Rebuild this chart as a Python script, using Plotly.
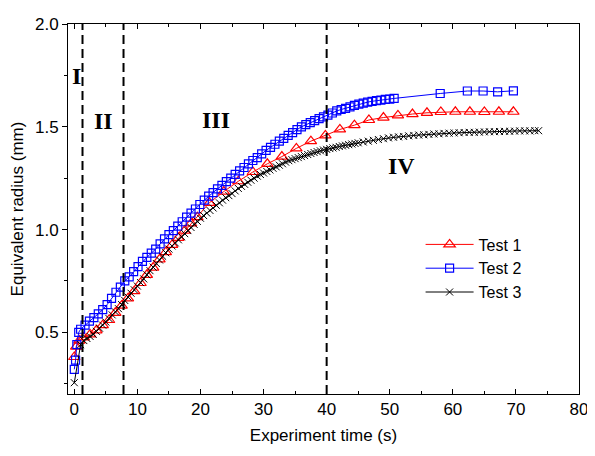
import plotly.graph_objects as go

# ---------------- data ----------------
t1 = [0.0, 0.3, 0.8, 1.5, 2.5, 3.5, 4.5, 5.5, 6.5, 7.5, 8.5, 9.5, 10.5, 11.5, 12.5,
      13.5, 14.5, 15.5, 16.5, 17.5, 18.5, 19.5, 21.4, 23.7, 26.0, 28.3, 30.6, 32.9,
      35.2, 37.5, 39.8, 42.1, 44.4, 46.7, 49.0, 51.3, 53.6, 55.9, 58.1, 60.4, 62.7,
      65.0, 67.3, 69.6]
r1 = [0.38, 0.43, 0.46, 0.475, 0.49, 0.51, 0.535, 0.56, 0.595, 0.63, 0.665, 0.70,
      0.74, 0.78, 0.815, 0.855, 0.89, 0.925, 0.96, 0.995, 1.03, 1.06, 1.13, 1.185,
      1.235, 1.28, 1.32, 1.355, 1.395, 1.43, 1.458, 1.487, 1.508, 1.533, 1.545, 1.555,
      1.562, 1.568, 1.572, 1.573, 1.573, 1.572, 1.573, 1.573]

t2 = [0.0, 0.2, 0.4, 0.7, 1.0, 1.7, 2.4, 3.1, 3.8, 4.5, 5.2, 5.9, 6.6, 7.3, 8.0, 8.7,
      9.4, 10.1, 10.8, 11.5, 12.2, 12.9, 13.6, 14.3, 15.0, 15.7, 16.4, 17.1, 17.8,
      18.5, 19.2, 19.9, 20.6, 21.3, 22.0, 22.7, 23.4, 24.1, 24.8, 25.5, 26.2, 26.9,
      27.6, 28.3, 29.0, 29.7, 30.4, 31.1, 31.8, 32.5, 33.2, 33.9, 34.6, 35.3, 36.0,
      36.7, 37.4, 38.1, 38.8, 39.5, 40.2, 40.9, 41.6, 42.3, 43.0, 43.7, 44.4, 45.1,
      45.8, 46.5, 47.2, 47.9, 48.6, 49.3, 50.0, 50.7, 58.0, 62.3, 64.8, 67.1, 69.6]
r2 = [0.32, 0.365, 0.44, 0.50, 0.515, 0.535, 0.555, 0.572, 0.59, 0.61, 0.635, 0.665,
      0.695, 0.72, 0.75, 0.77, 0.795, 0.82, 0.845, 0.865, 0.885, 0.905, 0.93, 0.955,
      0.975, 0.995, 1.017, 1.038, 1.06, 1.08, 1.10, 1.122, 1.143, 1.163, 1.18, 1.198,
      1.215, 1.233, 1.25, 1.268, 1.285, 1.302, 1.32, 1.336, 1.35, 1.368, 1.385, 1.40,
      1.415, 1.43, 1.444, 1.458, 1.472, 1.486, 1.50, 1.51, 1.52, 1.53, 1.54, 1.548,
      1.557, 1.567, 1.577, 1.584, 1.59, 1.597, 1.604, 1.61, 1.615, 1.62, 1.624, 1.627,
      1.63, 1.633, 1.635, 1.638, 1.662, 1.674, 1.674, 1.670, 1.675]

t3 = [0.0, 1.0, 1.5, 2.0, 2.5, 3.0, 3.5, 4.0, 4.5, 5.0, 5.5, 6.0, 6.5, 7.0, 7.5, 8.0,
      8.5, 9.0, 9.5, 10.0, 10.5, 11.0, 11.5, 12.0, 12.5, 13.0, 13.5, 14.0, 14.5, 15.0,
      15.5, 16.0, 16.5, 17.0, 17.5, 18.0, 18.5, 19.0, 19.5, 20.0, 20.5, 21.0, 21.5,
      22.0, 22.5, 23.0, 23.5, 24.0, 24.5, 25.0, 25.5, 26.0, 26.5, 27.0, 27.5, 28.0,
      28.5, 29.0, 29.5, 30.0, 30.5, 31.0, 31.5, 32.0, 32.5, 33.0, 33.5, 34.0, 34.5,
      35.0, 35.5, 36.0, 36.5, 37.0, 37.5, 38.0, 38.5, 39.0, 39.5, 40.0, 40.5, 41.0,
      41.5, 42.0, 42.5, 43.0, 43.5, 44.0, 44.5, 45.0, 45.8, 46.6, 47.4, 48.2, 49.0,
      49.8, 50.6, 51.4, 52.2, 53.0, 53.8, 54.6, 55.4, 56.2, 57.0, 57.8, 58.6, 59.4,
      60.2, 61.0, 61.8, 62.6, 63.4, 64.2, 65.0, 65.8, 66.6, 67.4, 68.2, 69.0, 69.8,
      70.6, 71.4, 72.2, 73.0, 73.6]
r3 = [0.255, 0.44, 0.46, 0.47, 0.48, 0.49, 0.505, 0.52, 0.535, 0.55, 0.567, 0.585,
      0.60, 0.615, 0.635, 0.655, 0.672, 0.69, 0.707, 0.725, 0.742, 0.76, 0.78, 0.80,
      0.817, 0.835, 0.852, 0.87, 0.887, 0.905, 0.92, 0.935, 0.95, 0.965, 0.98, 0.995,
      1.01, 1.025, 1.04, 1.055, 1.068, 1.08, 1.093, 1.105, 1.118, 1.13, 1.143, 1.155,
      1.165, 1.175, 1.188, 1.20, 1.21, 1.22, 1.23, 1.24, 1.25, 1.26, 1.268, 1.275,
      1.283, 1.29, 1.298, 1.305, 1.313, 1.32, 1.328, 1.335, 1.34, 1.345, 1.35, 1.355,
      1.36, 1.365, 1.37, 1.375, 1.379, 1.383, 1.387, 1.39, 1.394, 1.397, 1.40, 1.404,
      1.407, 1.41, 1.413, 1.416, 1.419, 1.422, 1.426, 1.43, 1.434, 1.438, 1.442, 1.446,
      1.449, 1.451, 1.453, 1.456, 1.458, 1.46, 1.461, 1.463, 1.465, 1.466, 1.468, 1.469,
      1.47, 1.471, 1.472, 1.473, 1.473, 1.474, 1.475, 1.476, 1.476, 1.477, 1.478, 1.478,
      1.479, 1.48, 1.48, 1.48, 1.481, 1.481]

series_names = ["Test 1", "Test 2", "Test 3"]
stage_bounds = [1.3, 7.8, 40.0]
stage_labels = ["I", "II", "III", "IV"]
stage_label_x = [0.4, 4.6, 22.4, 51.8]
stage_label_y = [1.745, 1.53, 1.535, 1.31]

# ---------------- figure ----------------
fig = go.Figure()
fig.add_trace(go.Scatter(
    x=t1, y=r1, name=series_names[0], mode="lines+markers",
    line=dict(color="#ff0000", width=1),
    marker=dict(symbol="triangle-up-open", size=10, color="#ff0000", line=dict(width=1.2))))
fig.add_trace(go.Scatter(
    x=t2, y=r2, name=series_names[1], mode="lines+markers",
    line=dict(color="#0000ff", width=1),
    marker=dict(symbol="square-open", size=8, color="#0000ff", line=dict(width=1.2))))
fig.add_trace(go.Scatter(
    x=t3, y=r3, name=series_names[2], mode="lines+markers",
    line=dict(color="#000000", width=1),
    marker=dict(symbol="x-thin", size=7, color="#000000", line=dict(width=1, color="#000000"))))

for xb in stage_bounds:
    fig.add_shape(type="line", xref="x", yref="y", x0=xb, x1=xb, y0=0.2, y1=2.0,
                  line=dict(color="black", width=2, dash="9px,5px"))

for lab, lx, ly in zip(stage_labels, stage_label_x, stage_label_y):
    fig.add_annotation(x=lx, y=ly, text="<b>" + lab + "</b>", showarrow=False,
                       font=dict(family="Liberation Serif", size=24, color="black"))

fig.update_layout(
    width=587, height=440,
    margin=dict(l=56, r=8, t=7, b=51),
    paper_bgcolor="white", plot_bgcolor="white",
    font=dict(family="Liberation Sans", size=17, color="black"),
    showlegend=True,
    legend=dict(x=0.69, y=0.45, xanchor="left", yanchor="top",
                bgcolor="rgba(0,0,0,0)", font=dict(size=16),
                itemwidth=48, tracegroupgap=0),
    xaxis=dict(range=[-1, 80], dtick=10, tick0=0, ticks="inside", ticklen=5,
               tickwidth=1, tickcolor="black", showgrid=False, zeroline=False,
               showline=True, linecolor="black", linewidth=1, mirror="ticks",
               ticklabeloverflow="allow",
               minor=dict(dtick=5, ticks="inside", ticklen=3, tickcolor="black"),
               title=dict(text="Experiment time (s)", font=dict(size=17), standoff=10),
               tickfont=dict(size=17)),
    yaxis=dict(range=[0.2, 2.0], dtick=0.5, tick0=0, tickformat=".1f", ticks="outside",
               ticklen=5, tickwidth=1, tickcolor="black", showgrid=False, zeroline=False,
               showline=True, linecolor="black", linewidth=1, mirror=True,
               ticklabeloverflow="allow",
               minor=dict(dtick=0.25, ticks="outside", ticklen=3, tickcolor="black"),
               title=dict(text="Equivalent radius (mm)", font=dict(size=17), standoff=8),
               tickfont=dict(size=17)),
)

fig.write_html("out.html")
